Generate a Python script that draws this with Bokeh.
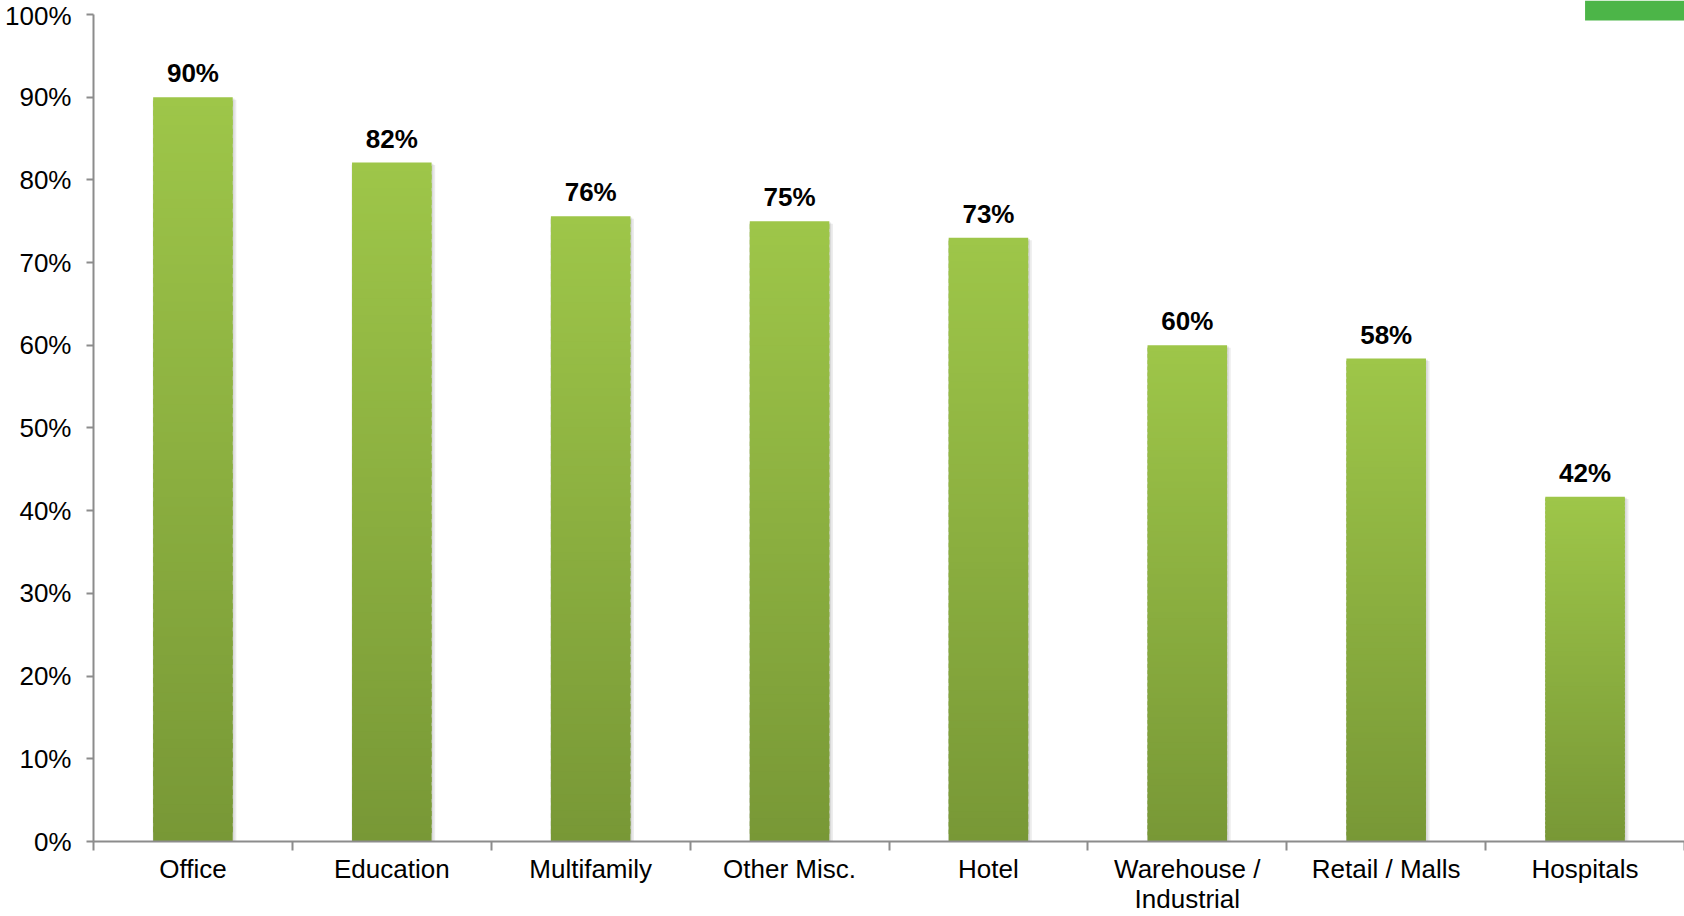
from bokeh.plotting import figure
from bokeh.models import FixedTicker, PrintfTickFormatter, ColumnDataSource, BoxAnnotation, Range1d
from bokeh.core.properties import value
from bokeh.embed import file_html
from bokeh.resources import INLINE

# ---- data ----
categories = ["Office", "Education", "Multifamily", "Other Misc.", "Hotel",
              "Warehouse /\nIndustrial", "Retail / Malls", "Hospitals"]
shares = [90.0, 82.1, 75.6, 75.0, 73.0, 60.0, 58.4, 41.7]
y_ticks = [0, 10, 20, 30, 40, 50, 60, 70, 80, 90, 100]

# ---- style ----
FONT = "Liberation Sans"
TOP_RGB = (158, 198, 73)
BOT_RGB = (120, 152, 54)
AXIS_COLOR = "#8C8C8C"
N_STEPS = 80
BAR_W = 0.40
Y_TOP = 101.69          # leaves a little room above the 100% tick

W, H = 1684, 916
n = len(categories)
centers = [i + 0.5 for i in range(n)]

p = figure(width=W, height=H, output_backend="svg", toolbar_location=None,
           x_range=Range1d(0, n), y_range=Range1d(0, Y_TOP),
           min_border_left=93, min_border_right=0, min_border_top=0, min_border_bottom=75)
p.outline_line_color = None
p.xgrid.visible = False
p.ygrid.visible = False
p.background_fill_color = "white"
p.border_fill_color = "white"

# soft shadow to the right of each bar
p.vbar(x=[c + 0.008 for c in centers], top=[v - 0.3 for v in shares], bottom=0,
       width=BAR_W + 0.02, fill_color="#c8c8c8", fill_alpha=0.35, line_color=None)
p.vbar(x=[c + 0.004 for c in centers], top=[v - 0.15 for v in shares], bottom=0,
       width=BAR_W + 0.01, fill_color="#b8b8b8", fill_alpha=0.35, line_color=None)

# gradient bars built from the values (light at top, darker at bottom)
xs, bots, tops, cols = [], [], [], []
for c, v in zip(centers, shares):
    for k in range(N_STEPS):
        t = (k + 0.5) / N_STEPS
        rgb = tuple(int(round(BOT_RGB[j] + (TOP_RGB[j] - BOT_RGB[j]) * t)) for j in range(3))
        xs.append(c)
        bots.append(v * k / N_STEPS)
        tops.append(min(v, v * (k + 1.6) / N_STEPS))
        cols.append("#%02x%02x%02x" % rgb)
src = ColumnDataSource(dict(x=xs, bottom=bots, top=tops, color=cols))
p.vbar(x="x", bottom="bottom", top="top", width=BAR_W, source=src,
       fill_color="color", line_color=None)

# value labels
lab_src = ColumnDataSource(dict(x=centers, y=shares, text=[f"{round(v)}%" for v in shares]))
p.text(x="x", y="y", text="text", source=lab_src, text_align="center", text_baseline="bottom",
       y_offset=-9, text_font=value(FONT), text_font_style="bold", text_font_size="26px",
       text_color="black")

# y axis
ya = p.yaxis[0]
ya.ticker = FixedTicker(ticks=y_ticks, minor_ticks=[])
ya.formatter = PrintfTickFormatter(format="%d%%")
ya.bounds = (0, 100)
ya.major_tick_out = 7
ya.major_tick_in = 0
ya.axis_line_color = AXIS_COLOR
ya.axis_line_width = 2
ya.major_tick_line_color = AXIS_COLOR
ya.major_tick_line_width = 2
ya.major_label_text_font = FONT
ya.major_label_text_font_size = "26px"
ya.major_label_text_color = "black"
ya.major_label_standoff = 15

# x axis: labels at category centres, ticks at category boundaries
xa = p.xaxis[0]
xa.ticker = FixedTicker(ticks=centers, minor_ticks=list(range(n + 1)))
xa.major_label_overrides = {c: lab for c, lab in zip(centers, categories)}
xa.major_tick_out = 0
xa.major_tick_in = 0
xa.minor_tick_out = 9
xa.minor_tick_in = 0
xa.minor_tick_line_color = AXIS_COLOR
xa.minor_tick_line_width = 2
xa.axis_line_color = AXIS_COLOR
xa.axis_line_width = 2
xa.major_label_text_font = FONT
xa.major_label_text_font_size = "26px"
xa.major_label_text_line_height = 1.0
xa.major_label_text_color = "black"
xa.major_label_standoff = 3

# decorative green block in the top-right corner
p.add_layout(BoxAnnotation(left=7.5, bottom=99.27, fill_color="#4CB548", fill_alpha=1.0,
                           line_color=None, level="underlay"))

open("out.html", "w").write(file_html(p, INLINE))
